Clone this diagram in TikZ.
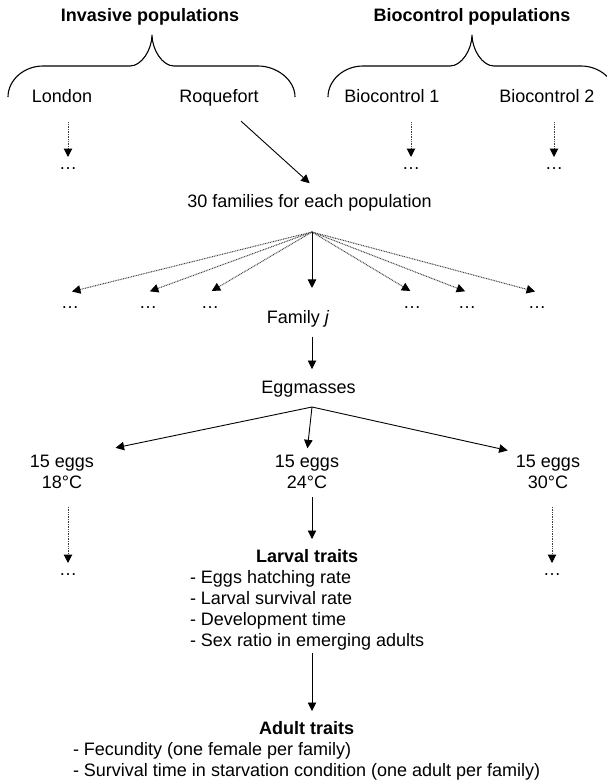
\documentclass[tikz,border=0pt]{standalone}
\usepackage{fontspec}
\setmainfont{Liberation Sans}
\usetikzlibrary{arrows.meta}
\begin{document}
\begin{tikzpicture}[x=1pt,y=-1pt,
  every node/.style={inner sep=0pt, outer sep=0pt, font=\fontsize{18}{21}\selectfont},
  txt/.style={anchor=base},
  head/.style={anchor=base, font=\fontsize{18}{21}\selectfont\bfseries},
  dots/.style={anchor=base, text height=16pt, text depth=0pt},
  arr/.style={line width=0.9pt, -{Triangle[length=8.5pt,width=8.5pt]}},
  darr/.style={line width=1pt, draw=black!75, dash pattern=on 0.9pt off 0.8pt,
    -{Triangle[length=8.5pt,width=8.5pt,color=black,fill=black]}},
  brace/.style={line width=1.1pt}
]
\useasboundingbox (0,0) rectangle (607,782);

% headings and braces
\node[head] (inv) at (150,21) {Invasive populations};
\node[head] (bio) at (472,21) {Biocontrol populations};
\draw[brace] (8,97) .. controls (8,80) and (24,66) .. (43,66) -- (130,66)
  .. controls (142,66) and (152,49) .. (152,35)
  .. controls (152,49) and (162,66) .. (174,66) -- (258,66)
  .. controls (277,66) and (295,80) .. (295,97);
\draw[brace] (328,97) .. controls (328,80) and (344,66) .. (363,66) -- (450,66)
  .. controls (462,66) and (472,49) .. (472,35)
  .. controls (472,49) and (482,66) .. (494,66) -- (581,66)
  .. controls (600,66) and (616,80) .. (616,97);

% populations
\node[txt] (lon) at (62,102) {London};
\node[txt] (roq) at (219,102) {Roquefort};
\node[txt] (b1) at (392,102) {Biocontrol 1};
\node[txt] (b2) at (547,102) {Biocontrol 2};

\node[dots, text height=12pt] (dL) at (68,169) {…};
\node[dots, text height=12pt] (d1) at (411,169) {…};
\node[dots, text height=12pt] (d2) at (554,169) {…};

\draw[darr, shorten <=20pt] (lon.south -| dL) -- (dL.north);
\draw[darr, shorten <=20pt] (b1.south -| d1) -- (d1.north);
\draw[darr, shorten <=20pt] (b2.south -| d2) -- (d2.north);

\node[txt] (fam) at (309.5,207) {30 families for each population};
\draw[arr, shorten <=23pt, shorten >=16pt] ([xshift=5pt]roq.south) -- ([xshift=12pt]fam.north);

% families
\coordinate (fo) at (312,232);
\node[dots] (f1) at (70,308) {…};
\node[dots] (f2) at (148,308) {…};
\node[dots] (f3) at (210,308) {…};
\node[dots] (f5) at (412,308) {…};
\node[dots] (f6) at (467,308) {…};
\node[dots] (f7) at (537,308) {…};
\node[txt] (fj) at (298,323) {Family \textit{j}};
\foreach \n in {f1,f2,f3,f5,f6,f7} \draw[darr, shorten >=2pt] (fo) -- (\n.north);
\draw[arr, shorten >=22pt] (fo) -- (fo |- fj.north);

\node[txt] (eg) at (308.5,393) {Eggmasses};
\draw[arr, shorten <=10pt, shorten >=11.6pt] (fj.south -| fo) -- (eg.north -| fo);

% temperatures
\coordinate (eo) at (312,407);
\node[txt] (e18) at (62,467) {\begin{tabular}[t]{@{}c@{}}15 eggs\\18°C\end{tabular}};
\node[txt] (e24) at (307,467) {\begin{tabular}[t]{@{}c@{}}15 eggs\\24°C\end{tabular}};
\node[txt] (e30) at (548,467) {\begin{tabular}[t]{@{}c@{}}15 eggs\\30°C\end{tabular}};
\draw[arr, shorten >=22pt] (eo) -- (e18.north east);
\draw[arr, shorten >=4pt] (eo) -- (e24.north);
\draw[arr, shorten >=8.5pt] (eo) -- (e30.north west);

\node[dots, text height=12pt] (d18) at (68,575) {…};
\node[dots, text height=12pt] (d30) at (552,575) {…};
\draw[darr, shorten <=12.7pt] (e18.south -| d18) -- (d18.north);
\draw[darr, shorten <=12.7pt] (e30.south -| d30) -- (d30.north);

% traits
\node[anchor=base west] (lt) at (190,562) {\begin{tabular}[t]{@{}l@{}}\multicolumn{1}{@{}c@{}}{\bfseries Larval traits}\\- Eggs hatching rate\\- Larval survival rate\\- Development time\\- Sex ratio in emerging adults\end{tabular}};
\node[anchor=base west] (at) at (73,734) {\begin{tabular}[t]{@{}l@{}}\multicolumn{1}{@{}c@{}}{\bfseries Adult traits}\\- Fecundity (one female per family)\\- Survival time in starvation condition (one adult per family)\end{tabular}};
\draw[arr, shorten <=2.7pt, shorten >=8.3pt] (e24.south -| fo) -- (lt.north -| fo);
\draw[arr, shorten <=0.7pt, shorten >=8.3pt] (lt.south -| fo) -- (at.north -| fo);
\end{tikzpicture}
\end{document}
